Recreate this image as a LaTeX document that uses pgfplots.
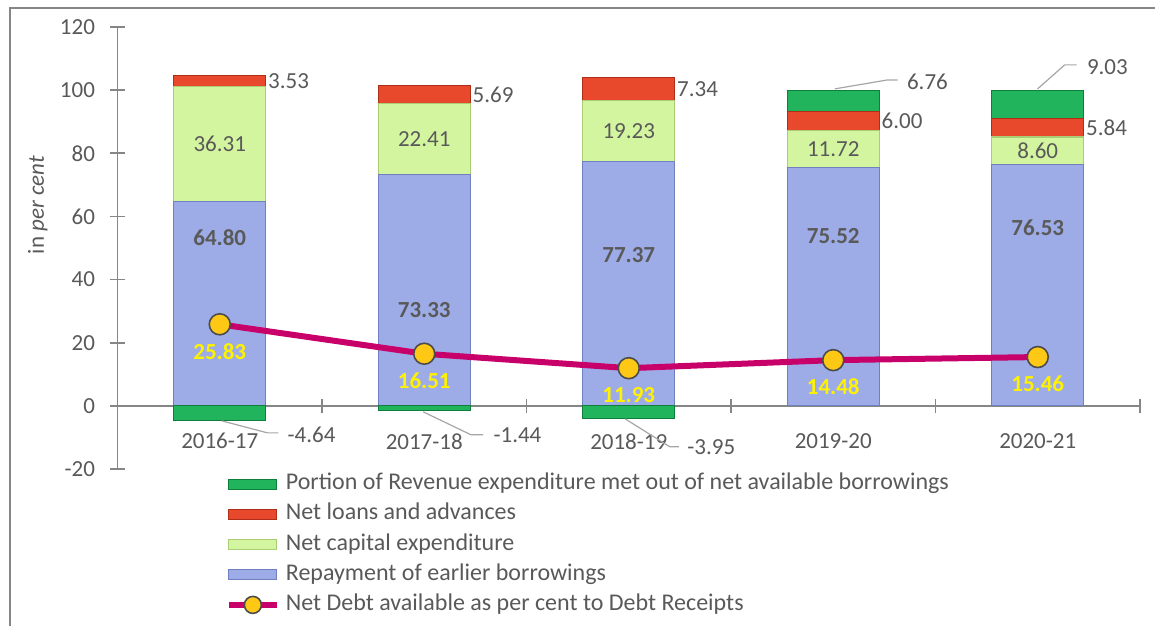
\documentclass[border=0pt]{standalone}
\usepackage{pgfplots}
\pgfplotsset{compat=1.18}
\usepackage{pgfplotstable}
\usepackage{fontspec}
\setmainfont{Carlito}
\definecolor{txt}{HTML}{595959}
\definecolor{cblue}{HTML}{9DACE6}
\definecolor{cblueE}{HTML}{6F7FBF}
\definecolor{clg}{HTML}{D4F5A0}
\definecolor{clgE}{HTML}{A9CC74}
\definecolor{cred}{HTML}{E8482B}
\definecolor{credE}{HTML}{AE2F18}
\definecolor{cgr}{HTML}{22B45C}
\definecolor{cgrE}{HTML}{0E7F3A}
\definecolor{cline}{HTML}{C8006A}
\definecolor{cmark}{HTML}{FFC814}
\definecolor{axisgray}{HTML}{868686}
\definecolor{leader}{HTML}{A6A6A6}

\pgfplotstableread{
x rep cap loan rev net bly lx ly
1 64.80 36.31 3.53 -4.64 25.83 53.2 1.330 -9.18
2 73.33 22.41 5.69 -1.44 16.51 30.4 2.337 -9.18
3 77.37 19.23 7.34 -3.95 11.93 47.8 3.285 -13.0
4 75.52 11.72 6.00 6.76 14.48 53.8 4.359 102.6
5 76.53 8.60 5.84 9.03 15.46 56.4 5.239 107.3
}\data

\newcommand\legbar[2]{\addlegendimage{legend image code/.code={\filldraw[fill=#1,draw=#2,line width=0.6pt] (0pt,-2.5pt) rectangle (24pt,2.5pt);}}}

\pgfplotsset{
  mybar/.style={ybar, bar width=0.45, bar shift=0pt, line width=0.6pt},
}

\begin{document}
\begin{tikzpicture}
\useasboundingbox (0,0) rectangle (577.5pt,313pt);
\draw[axisgray, line width=1.1pt] (5pt,0pt) -- (5pt,309pt) -- (577.5pt,309pt);
\begin{axis}[
  at={(58.75pt,78.5pt)}, anchor=south west,
  scale only axis, width=511.25pt, height=221pt,
  xmin=0.5, xmax=5.5, ymin=-20, ymax=120,
  axis y line=left, axis x line=middle,
  every outer y axis line/.append style={-},
  every inner x axis line/.append style={-},
  every outer x axis line/.append style={-},
  axis line style={draw=axisgray, line width=0.8pt, -},
  hide obscured x ticks=false, hide obscured y ticks=false,
  ytick={-20,0,...,120},
  xtick={1,...,5},
  xticklabels={2016-17,2017-18,2018-19,2019-20,2020-21},
  minor xtick={0.5,1.5,...,5.5},
  tick align=center,
  major tick length=7.5pt, minor tick length=7pt,
  xtick style={draw=none},
  ytick style={draw=axisgray, line width=0.8pt},
  minor x tick style={draw=axisgray, line width=0.8pt},
  tick label style={font=\fontsize{11.5}{13}\selectfont, text=txt},
  /pgf/number format/assume math mode=true,
  xticklabel style={yshift=-6.5pt},
  yticklabel style={xshift=-4pt},
  ylabel={in \textit{per cent}},
  ylabel style={at={(axis description cs:-0.078,0.597)}, anchor=center, rotate=0, font=\fontsize{11.5}{13}\selectfont, text=txt},
  legend style={at={(axis description cs:0.106,0.0)}, anchor=north west,
    draw=none, fill=none, inner sep=0pt, outer sep=0pt, row sep=0pt, column sep=2pt,
    font=\fontsize{12}{14}\selectfont, text=txt,
    nodes={inner ysep=1.8pt, inner xsep=1pt, text height=8.5pt, text depth=3pt}},
  legend cell align=left,
  clip=false,
]
% bars (drawn as overlapping cumulative columns)
\addplot[mybar, fill=cgr, draw=cgrE, forget plot, skip coords between index={0}{3}]
  table[x=x, y expr=\thisrow{rep}+\thisrow{cap}+\thisrow{loan}+\thisrow{rev}] {\data};
\addplot[mybar, fill=cred, draw=credE, forget plot]
  table[x=x, y expr=\thisrow{rep}+\thisrow{cap}+\thisrow{loan}] {\data};
\addplot[mybar, fill=clg, draw=clgE, forget plot]
  table[x=x, y expr=\thisrow{rep}+\thisrow{cap}] {\data};
\addplot[mybar, fill=cblue, draw=cblueE, forget plot]
  table[x=x, y=rep] {\data};
\addplot[mybar, fill=cgr, draw=cgrE, forget plot, skip coords between index={3}{5}]
  table[x=x, y=rev] {\data};

% labels of capital expenditure (centred)
\addplot[draw=none, mark=none, forget plot, nodes near coords, point meta=explicit symbolic,
  nodes near coords style={anchor=center, font=\fontsize{11.5}{13}\selectfont, text=txt}]
  table[x=x, y expr=\thisrow{rep}+0.5*\thisrow{cap}, meta=cap] {\data};
% labels of repayment (bold)
\addplot[draw=none, mark=none, forget plot, nodes near coords, point meta=explicit symbolic,
  nodes near coords style={anchor=center, font=\fontsize{11.5}{13}\selectfont\bfseries, text=txt}]
  table[x=x, y=bly, meta=rep] {\data};
% labels of net loans (right of bar)
\addplot[draw=none, mark=none, forget plot, nodes near coords, point meta=explicit symbolic,
  nodes near coords style={anchor=west, inner xsep=1pt, font=\fontsize{11.5}{13}\selectfont, text=txt}]
  table[x expr=\thisrow{x}+0.225, y expr=\thisrow{rep}+\thisrow{cap}+0.5*\thisrow{loan}, meta=loan] {\data};
% labels of revenue portion (with leader lines)
\addplot[draw=none, mark=none, forget plot, nodes near coords, point meta=explicit symbolic,
  nodes near coords style={anchor=west, inner xsep=0pt, font=\fontsize{11.5}{13}\selectfont, text=txt}]
  table[x=lx, y=ly, meta=rev] {\data};
\draw[leader, line width=0.6pt] (axis cs:1.01,-4.75) -- (axis cs:1.233,-8.55) -- (axis cs:1.287,-8.55);
\draw[leader, line width=0.6pt] (axis cs:1.995,-1.9) -- (axis cs:2.229,-9.18) -- (axis cs:2.288,-9.18);
\draw[leader, line width=0.6pt] (axis cs:2.982,-4.1) -- (axis cs:3.201,-12.98) -- (axis cs:3.245,-12.98);
\draw[leader, line width=0.6pt] (axis cs:4.008,100.4) -- (axis cs:4.262,103.2) -- (axis cs:4.315,103.2);
\draw[leader, line width=0.6pt] (axis cs:4.999,100.4) -- (axis cs:5.132,108.0) -- (axis cs:5.19,108.0);

% line
\addplot[cline, line width=3pt, mark=*, mark size=5.25pt,
  mark options={fill=cmark, draw=black!70, line width=0.8pt}, forget plot,
  nodes near coords, point meta=explicit symbolic,
  nodes near coords style={anchor=center, yshift=-13.5pt, font=\fontsize{11.5}{13}\selectfont\bfseries, text=yellow}]
  table[x=x, y=net, meta=net] {\data};

% legend
\legbar{cgr}{cgrE}
\addlegendentry{Portion of Revenue expenditure met out of net available borrowings}
\legbar{cred}{credE}
\addlegendentry{Net loans and advances}
\legbar{clg}{clgE}
\addlegendentry{Net capital expenditure}
\legbar{cblue}{cblueE}
\addlegendentry{Repayment of earlier borrowings}
\addlegendimage{legend image code/.code={\draw[cline, line width=3pt] (0pt,0pt) -- (24pt,0pt); \filldraw[fill=cmark, draw=black!70, line width=0.8pt] (12pt,0pt) circle (4.25pt);}}
\addlegendentry{Net Debt available as per cent to Debt Receipts}
\end{axis}
\end{tikzpicture}
\end{document}
